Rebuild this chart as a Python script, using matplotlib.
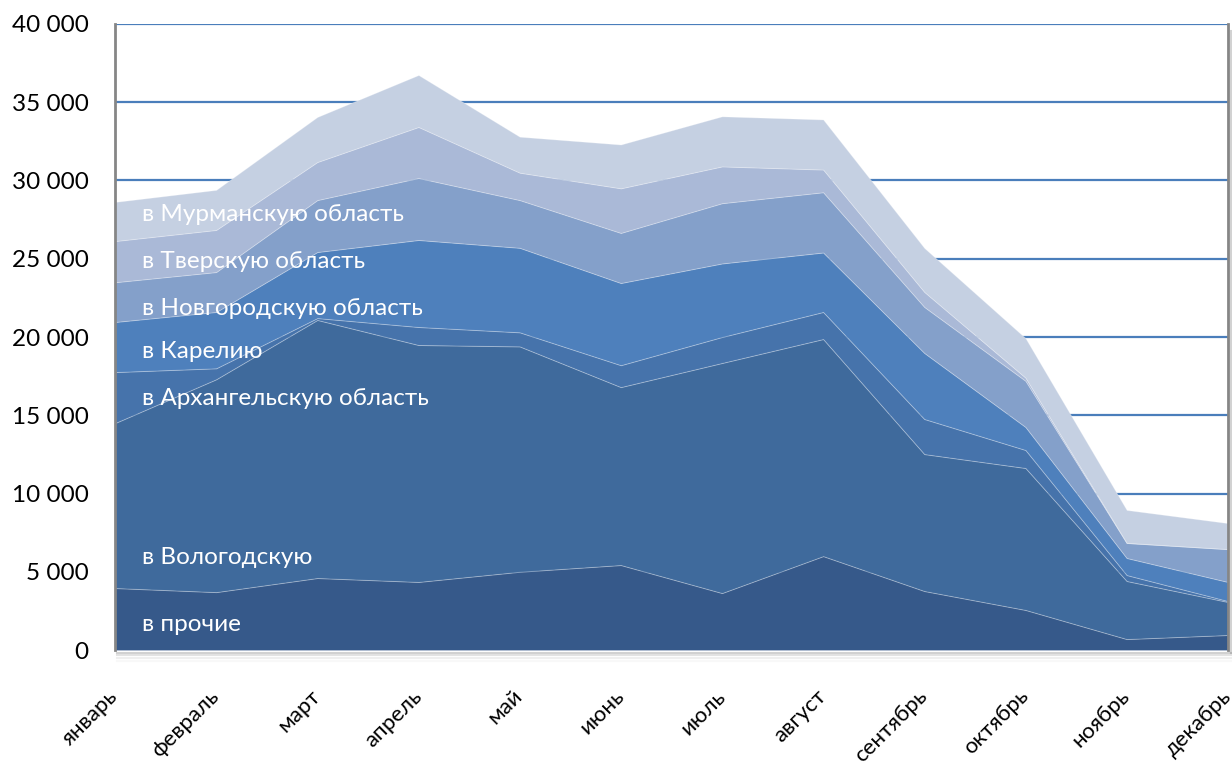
import numpy as np
import matplotlib.pyplot as plt
from matplotlib.ticker import FuncFormatter, MultipleLocator

plt.rcParams['font.family'] = ['Lato', 'DejaVu Sans']

# --- data (per-layer values) ---
months = ['январь', 'февраль', 'март', 'апрель', 'май', 'июнь',
          'июль', 'август', 'сентябрь', 'октябрь', 'ноябрь', 'декабрь']

prochie     = [3960, 3700, 4600, 4350, 5000, 5430, 3640, 6000, 3770, 2560, 700, 960]
vologda     = [10540, 13600, 16490, 15140, 14400, 11370, 14700, 13870, 8750, 9070, 3710, 2110]
arkhangelsk = [3260, 700, 120, 1150, 900, 1400, 1660, 1730, 2240, 1150, 380, 60]
karelia     = [3200, 3600, 4220, 5560, 5400, 5250, 4700, 3800, 4220, 1470, 1090, 1220]
novgorod    = [2540, 2550, 3320, 3960, 3050, 3200, 3850, 3850, 2940, 2950, 960, 2100]
tver        = [2630, 2690, 2430, 3260, 1750, 2850, 2350, 1450, 960, 200, 10, 0]
murmansk    = [2500, 2560, 2880, 3320, 2300, 2800, 3200, 3200, 2810, 2530, 2100, 1660]

series_names = ['в прочие', 'в Вологодскую', 'в Архангельскую область', 'в Карелию',
                'в Новгородскую область', 'в Тверскую область', 'в Мурманскую область']
series = [prochie, vologda, arkhangelsk, karelia, novgorod, tver, murmansk]
colors = ['#36598A', '#3F6A9C', '#4673AB', '#4E80BC', '#84A0CA', '#AAB9D7', '#C5D0E2']

# label heights (data units) where the series names are written
label_y = [1650, 5900, 16100, 19050, 21850, 24800, 27800]

x = np.arange(len(months))

fig = plt.figure(figsize=(12.32, 7.64), dpi=100)
ax = fig.add_axes([0.0933, 0.1492, 0.9033, 0.8194])

# horizontal grid in blue behind the areas
ax.set_axisbelow(True)
ax.yaxis.grid(True, color='#4A7EBB', linewidth=1.6)

polys = ax.stackplot(x, *series, colors=colors, edgecolor=(1, 1, 1, 0.25),
                     linewidth=0.7, zorder=2)

for name, yy in zip(series_names, label_y):
    ax.text(0.27, yy, name, color='white', fontsize=17.5, va='center', ha='left', zorder=5)

ax.set_xlim(0, len(months) - 1)
ax.set_ylim(0, 40000)
ax.yaxis.set_major_locator(MultipleLocator(5000))
ax.yaxis.set_major_formatter(FuncFormatter(lambda v, p: f'{int(v):,}'.replace(',', ' ')))

ax.set_xticks(x)
ax.set_xticklabels(months, rotation=45, ha='right', va='center',
                   rotation_mode='anchor', fontsize=16)
ax.tick_params(axis='x', length=0, pad=31)
ax.tick_params(axis='y', length=0, pad=19, labelsize=17.5)

for side in ['top', 'bottom']:
    ax.spines[side].set_visible(False)
for side in ['left', 'right']:
    ax.spines[side].set_color('#868686')
    ax.spines[side].set_linewidth(2)

# soft shadow below and right of the plot area
for i, a in enumerate([0.35, 0.22, 0.12, 0.05]):
    off = 0.0022 * (i + 1)
    fig.add_artist(plt.Line2D([0.0953, 0.9966 + off], [0.1492 - off * 1.6] * 2,
                              color='gray', alpha=a, linewidth=1.5))
    fig.add_artist(plt.Line2D([0.9966 + off] * 2, [0.1492 - off * 1.6, 0.96],
                              color='gray', alpha=a, linewidth=1.5))

fig.savefig('out.png', dpi=100)
